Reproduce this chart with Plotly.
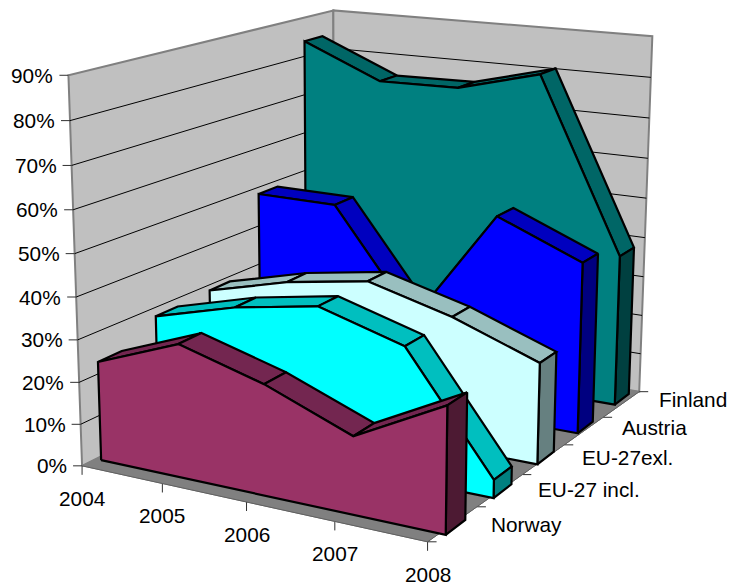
import numpy as np
import plotly.graph_objects as go

years = ["2004", "2005", "2006", "2007", "2008"]
series_names = ["Norway", "EU-27 incl.", "EU-27exl.", "Austria", "Finland"]
z_ticks = [0, 10, 20, 30, 40, 50, 60, 70, 80, 90]

norway = [23.6, 31.3, 25.7, 17.8, 28.5]
eu27_incl = [28.2, 33.6, 37.1, 31.2, 4.2]
eu27_excl = [28.6, 33.8, 37.1, 31.7, 24.2]
austria = [48.0, 47.8, 21.8, 50.3, 41.9]
finland = [83.5, 75.0, 75.3, 80.6, 37.9]

FRONT = ["#993366", "#00FFFF", "#CCFFFF", "#0000FF", "#008080"]
TOP = ["#732650", "#00BFBF", "#99BFBF", "#0000BF", "#006666"]
SIDE = ["#4D1A33", "#008080", "#668080", "#000080", "#004040"]
WALL = "#C0C0C0"
FLOOR = "#808080"
FONT = dict(family="Liberation Sans, Arial, sans-serif", size=20.8, color="black")

SLOT_START = 0.23
SLOT_PITCH = 1.055
SLAB_DEPTH = 0.42
SHEAR = 0.03

# camera fitted to the corners of the chart box
corners = [(0, 0, 0), (4, 0, 0), (4, 5, 0), (0, 5, 0), (0, 0, 90), (4, 5, 90), (0, 5, 90)]
corner_px = [(83, 465), (427, 543), (640, 390), (333, 341), (68, 75), (652, 37), (334, 10)]


def box_x(x, y):
    return x + SHEAR * (y - 2.5)


def fit_camera():
    rows, rhs = [], []
    for (x, y, z), (u, v) in zip(corners, corner_px):
        x = box_x(x, y)
        rows.append([x, y, z, 1, 0, 0, 0, 0, -u * x, -u * y, -u * z])
        rhs.append(u)
        rows.append([0, 0, 0, 0, x, y, z, 1, -v * x, -v * y, -v * z])
        rhs.append(v)
    p = np.linalg.lstsq(np.array(rows, float), np.array(rhs, float), rcond=None)[0]
    return np.append(p, 1).reshape(3, 4)


CAM = fit_camera()


def project(x, y, z):
    h = CAM @ np.array([x, y, z, 1.0])
    return h[0] / h[2], h[1] / h[2]


def box(x, y, z):
    return project(box_x(x, y), y, z)


fig = go.Figure()


def polygon(points, fill, line="black", width=2.2):
    xs, ys = zip(*points)
    fig.add_trace(go.Scatter(
        x=list(xs) + [xs[0]], y=list(ys) + [ys[0]],
        mode="lines", fill="toself", fillcolor=fill,
        line=dict(color=line, width=width),
        hoverinfo="skip", showlegend=False,
    ))


def segments(pairs, color="black", width=1):
    xs, ys = [], []
    for a, b in pairs:
        xs += [a[0], b[0], None]
        ys += [a[1], b[1], None]
    fig.add_trace(go.Scatter(
        x=xs, y=ys, mode="lines", line=dict(color=color, width=width),
        hoverinfo="skip", showlegend=False,
    ))


# walls and floor
polygon([box(0, 0, 0), box(0, 5, 0), box(0, 5, 90), box(0, 0, 90)], WALL, FLOOR, 2)
polygon([box(0, 5, 0), box(4, 5, 0), box(4, 5, 90), box(0, 5, 90)], WALL, FLOOR, 2)
polygon([box(0, 0, 0), box(4, 0, 0), box(4, 5, 0), box(0, 5, 0)], FLOOR, FLOOR, 1)

grid = []
for t in z_ticks[1:-1]:
    grid.append((box(0, 0, t), box(0, 5, t)))
    grid.append((box(0, 5, t), box(4, 5, t)))
segments(grid, "black", 1)

# axis ticks
ticks = []
for t in z_ticks:
    px, py = box(0, 0, t)
    ticks.append(((px - 9, py), (px, py)))
for i in range(len(years)):
    px, py = box(i, 0, 0)
    ticks.append(((px, py), (px, py + 9)))
for i in range(len(series_names) + 1):
    px, py = box(4, i, 0)
    ticks.append(((px, py), (px + 9, py)))
segments(ticks, "#303030", 1)
segments([(box(0, 0, 0), box(4, 0, 0)), (box(4, 0, 0), box(4, 5, 0))], "#606060", 1)

# series, back to front
all_series = [norway, eu27_incl, eu27_excl, austria, finland]
for s in range(len(all_series) - 1, -1, -1):
    vals = all_series[s]
    yf = SLOT_START + s * SLOT_PITCH
    yb = yf + SLAB_DEPTH
    for i in range(len(vals) - 1):
        polygon([project(i, yf, vals[i]), project(i + 1, yf, vals[i + 1]),
                 project(i + 1, yb, vals[i + 1]), project(i, yb, vals[i])], TOP[s])
    polygon([project(4, yf, 0), project(4, yb, 0), project(4, yb, vals[4]), project(4, yf, vals[4])], SIDE[s])
    front = [project(0, yf, 0)] + [project(i, yf, v) for i, v in enumerate(vals)] + [project(4, yf, 0)]
    polygon(front, FRONT[s])

# axis labels
for t in z_ticks:
    px, py = box(0, 0, t)
    fig.add_annotation(x=px - 13, y=py, text=f"{t}%", xanchor="right", yanchor="middle",
                       showarrow=False, font=FONT)
for i, year in enumerate(years):
    px, py = box(i, 0, 0)
    fig.add_annotation(x=px, y=py + 32.5, text=year, xanchor="center", yanchor="middle",
                       showarrow=False, font=FONT)
for i, name in enumerate(series_names):
    px, py = box(4, i + 0.5, 0)
    fig.add_annotation(x=px + 36, y=py + 1 - 1.5 * i, text=name, xanchor="left", yanchor="middle",
                       showarrow=False, font=FONT)

fig.update_xaxes(visible=False, range=[0, 729], fixedrange=True)
fig.update_yaxes(visible=False, range=[585, 0], fixedrange=True)
fig.update_layout(
    width=729, height=585,
    margin=dict(l=0, r=0, t=0, b=0),
    paper_bgcolor="white", plot_bgcolor="white",
    showlegend=False,
)
fig.write_html("out.html", config=dict(displayModeBar=False),
               post_script="document.body.style.margin='0';")
